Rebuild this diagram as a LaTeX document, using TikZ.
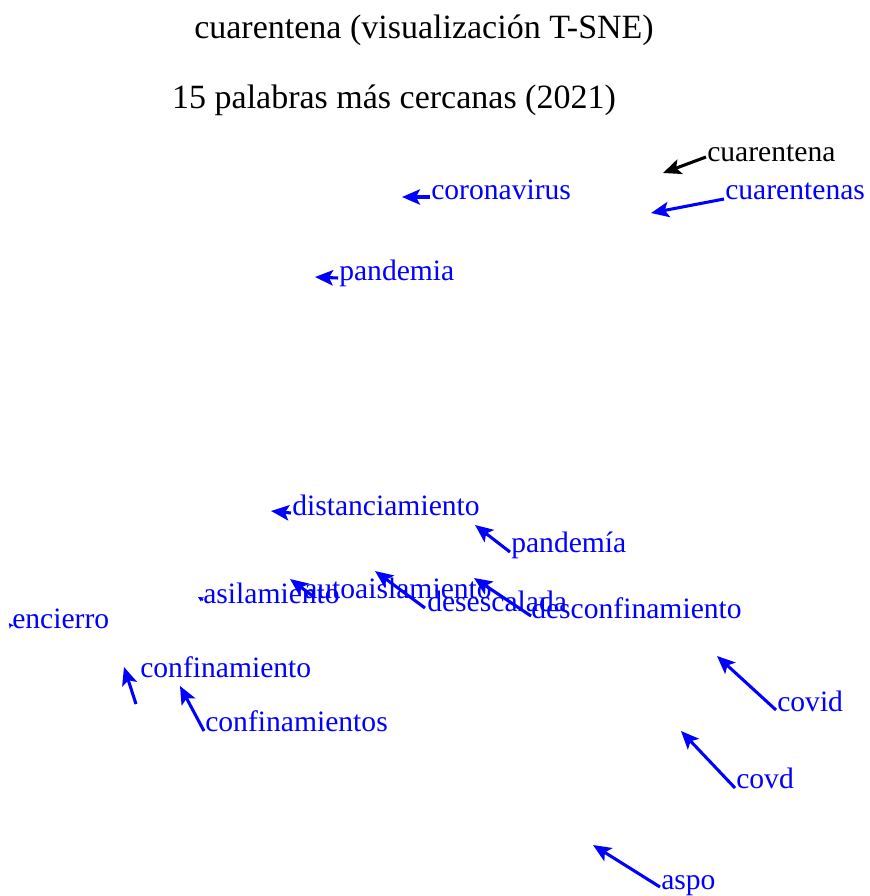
\documentclass[tikz,border=0pt]{standalone}
\usepackage{fontspec}
\setmainfont{Liberation Serif}
\usetikzlibrary{arrows.meta}
\begin{document}
\begin{tikzpicture}[x=0.75pt,y=-0.75pt,
  lbl/.style={anchor=base west,inner sep=0pt,text=blue,font=\fontsize{22.2}{26}\selectfont},
  ttl/.style={anchor=base,inner sep=0pt,font=\fontsize{25.5}{30}\selectfont},
  arr/.style={draw=blue,line width=2.3pt,-{Stealth[length=13.5pt,width=11.5pt,inset=3pt]}},
  tiny/.style={draw=blue,line width=1.6pt,-{Stealth[length=4pt,width=4pt]}}]
\useasboundingbox (0,0) rectangle (869,896);

% titles
\node[ttl] (title) at (424,38) {cuarentena (visualización T-SNE)};
\node[ttl] (subtitle) at (394,108) {15 palabras más cercanas (2021)};

% word labels
\node[lbl,text=black] (w1) at (707,161) {cuarentena};
\node[lbl] (w2) at (725,199) {cuarentenas};
\node[lbl] (w3) at (431,199) {coronavirus};
\node[lbl] (w4) at (339,280) {pandemia};
\node[lbl] (w5) at (292,515) {distanciamiento};
\node[lbl] (w6) at (511,552) {pandemía};
\node[lbl] (w7) at (203,603) {asilamiento};
\node[lbl] (w8) at (304,598) {autoaislamiento};
\node[lbl] (w9) at (427,611) {desescalada};
\node[lbl] (w10) at (531,618) {desconfinamiento};
\node[lbl] (w11) at (12,628) {encierro};
\node[lbl] (w12) at (140,677) {confinamiento};
\node[lbl] (w13) at (205,731) {confinamientos};
\node[lbl] (w14) at (777,711) {covid};
\node[lbl] (w15) at (736,788) {covd};
\node[lbl] (w16) at (661,889) {aspo};

% arrow tails
\coordinate (s1) at (706,157);
\coordinate (s2) at (724,199);
\coordinate (s3) at (430,197);
\coordinate (s4) at (338,278);
\coordinate (s5) at (291,513);
\coordinate (s6) at (510,552);
\coordinate (s7) at (203,600);
\coordinate (s8) at (314,597);
\coordinate (s9) at (425,608);
\coordinate (s10) at (531,616);
\coordinate (s11) at (11,626);
\coordinate (s12) at (136,704);
\coordinate (s13) at (204,731);
\coordinate (s14) at (776,710);
\coordinate (s15) at (735,788);
\coordinate (s16) at (660,887);

% embedding points
\coordinate (p1) at (663,173);
\coordinate (p2) at (651,213);
\coordinate (p3) at (402,197);
\coordinate (p4) at (315,277);
\coordinate (p5) at (271,511);
\coordinate (p6) at (475,525);
\coordinate (p7) at (198,597);
\coordinate (p8) at (290,579);
\coordinate (p9) at (375,571);
\coordinate (p10) at (474,578);
\coordinate (p11) at (9,623);
\coordinate (p12) at (124,667);
\coordinate (p13) at (180,686);
\coordinate (p14) at (717,656);
\coordinate (p15) at (681,731);
\coordinate (p16) at (593,845);

\draw[arr,draw=black] (s1) -- (p1);
\draw[arr] (s2) -- (p2);
\draw[arr] (s3) -- (p3);
\draw[arr] (s4) -- (p4);
\draw[arr] (s5) -- (p5);
\draw[arr] (s6) -- (p6);
\draw[tiny] (s7) -- (p7);
\draw[arr] (s8) -- (p8);
\draw[arr] (s9) -- (p9);
\draw[arr] (s10) -- (p10);
\draw[tiny] (s11) -- (p11);
\draw[arr] (s12) -- (p12);
\draw[arr] (s13) -- (p13);
\draw[arr] (s14) -- (p14);
\draw[arr] (s15) -- (p15);
\draw[arr] (s16) -- (p16);
\end{tikzpicture}
\end{document}
